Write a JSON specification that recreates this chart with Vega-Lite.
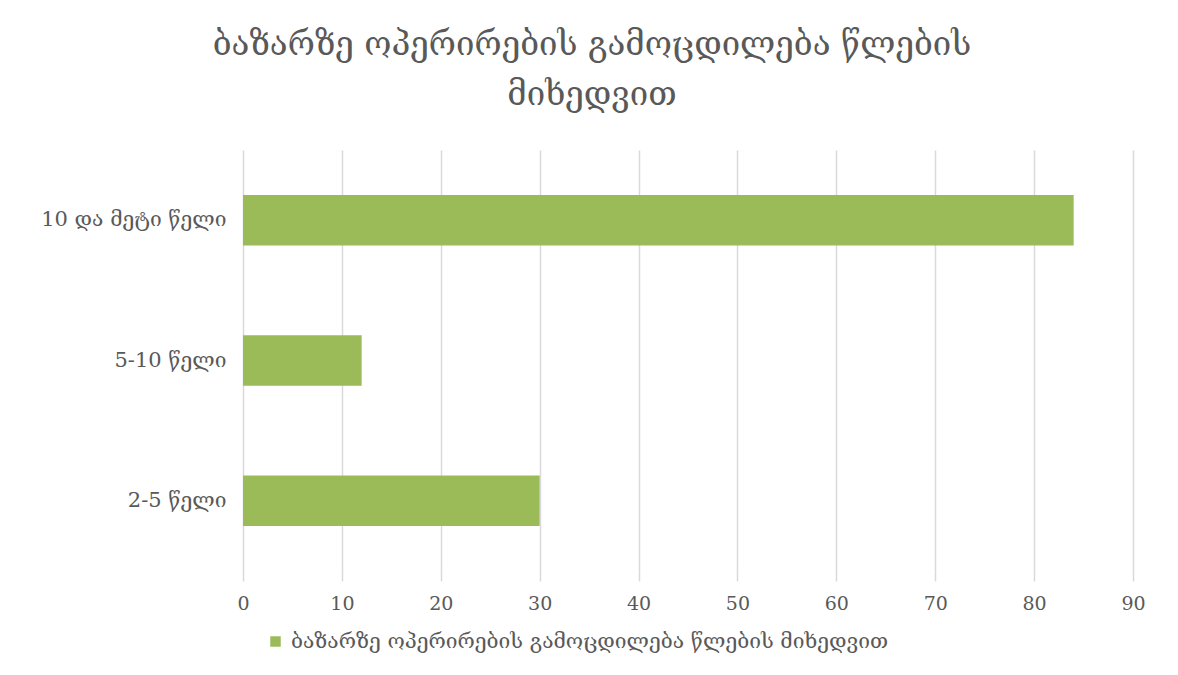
{
  "$schema": "https://vega.github.io/schema/vega-lite/v6.json",
  "autosize": {"type": "none"},
  "width": 890,
  "height": 421,
  "padding": {"left": 243, "top": 150, "right": 45, "bottom": 104},
  "background": "white",
  "title": {
    "text": ["ბაზარზე ოპერირების გამოცდილება წლების", "მიხედვით"],
    "font": "DejaVu Serif",
    "fontSize": 33,
    "fontWeight": "normal",
    "color": "#595959",
    "anchor": "middle",
    "dx": -96,
    "offset": 38,
    "lineHeight": 50
  },
  "data": {
    "values": [
      {"category": "10 და მეტი წელი", "value": 84, "series": "ბაზარზე ოპერირების გამოცდილება წლების მიხედვით"},
      {"category": "5-10 წელი", "value": 12, "series": "ბაზარზე ოპერირების გამოცდილება წლების მიხედვით"},
      {"category": "2-5 წელი", "value": 30, "series": "ბაზარზე ოპერირების გამოცდილება წლების მიხედვით"}
    ]
  },
  "mark": {"type": "bar"},
  "encoding": {
    "y": {
      "field": "category",
      "type": "nominal",
      "sort": ["10 და მეტი წელი", "5-10 წელი", "2-5 წელი"],
      "scale": {"paddingInner": 0.64, "paddingOuter": 0.32},
      "axis": {
        "title": null,
        "domain": false,
        "ticks": false,
        "grid": false,
        "labelFont": "DejaVu Serif",
        "labelFontSize": 21,
        "labelColor": "#595959",
        "labelPadding": 17,
        "labelLimit": 400
      }
    },
    "x": {
      "field": "value",
      "type": "quantitative",
      "scale": {"domain": [0, 90], "nice": false},
      "axis": {
        "title": null,
        "values": [0, 10, 20, 30, 40, 50, 60, 70, 80, 90],
        "domain": false,
        "ticks": true,
        "tickSize": 10,
        "tickColor": "#d9d9d9",
        "tickWidth": 1.5,
        "grid": true,
        "gridColor": "#d9d9d9",
        "gridWidth": 1.5,
        "labelFlush": false,
        "labelFont": "DejaVu Serif",
        "labelFontSize": 19,
        "labelColor": "#595959",
        "labelPadding": 13
      }
    },
    "color": {
      "field": "series",
      "type": "nominal",
      "scale": {"range": ["#9bbb59"]},
      "legend": {
        "title": null,
        "orient": "none",
        "legendX": 22,
        "legendY": 481,
        "symbolType": "square",
        "symbolSize": 110,
        "symbolOffset": 0,
        "labelOffset": 5,
        "labelFont": "DejaVu Serif",
        "labelFontSize": 21,
        "labelColor": "#595959",
        "labelLimit": 900
      }
    }
  },
  "config": {"view": {"stroke": null}}
}
